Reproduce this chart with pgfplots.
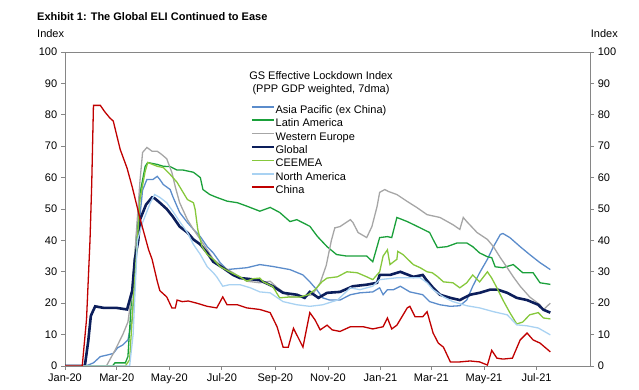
\documentclass[border=0pt]{standalone}
\usepackage{fontspec}
\setmainfont{Liberation Sans}
\usepackage{pgfplots}
\pgfplotsset{compat=1.18}
\definecolor{cAP}{HTML}{5B8CCB}
\definecolor{cLA}{HTML}{1AA03A}
\definecolor{cWE}{HTML}{A6A6A6}
\definecolor{cGL}{HTML}{0C1E5B}
\definecolor{cCE}{HTML}{86C83C}
\definecolor{cNA}{HTML}{A9D2F2}
\definecolor{cCN}{HTML}{C00000}
\definecolor{axgray}{HTML}{868686}
\newcommand{\ff}{\fontsize{11bp}{13bp}\selectfont}
\begin{document}
\ff
\begin{tikzpicture}
\useasboundingbox (0,0) rectangle (639bp,390bp);
\node[anchor=base west, font=\ff\bfseries, inner sep=0pt] at (37bp,369bp) {Exhibit 1: The Global ELI Continued to Ease};
\node[anchor=base west, font=\ff, inner sep=0pt] at (37bp,352bp) {Index};
\node[anchor=base east, font=\ff, inner sep=0pt] at (618bp,352bp) {Index};
\node[anchor=base, font=\ff, inner sep=0pt] at (321bp,310bp) {GS Effective Lockdown Index};
\node[anchor=base, font=\ff, inner sep=0pt] at (321bp,297bp) {(PPP GDP weighted, 7dma)};
\begin{axis}[
  at={(65bp,24bp)}, anchor=south west, scale only axis,
  width=525bp, height=314bp,
  xmin=0, xmax=609, ymin=0, ymax=100,
  axis line style={draw=axgray},
  tick style={draw=axgray, line width=0.8bp},
  major tick length=4bp,
  tick align=outside,
  xtick pos=bottom, ytick pos=left,
  xtick={0,60,121,182,244,305,366,425,486,547},
  xticklabels={Jan-20,Mar-20,May-20,Jul-20,Sep-20,Nov-20,Jan-21,Mar-21,May-21,Jul-21},
  ytick={0,10,...,100},
  /pgf/number format/assume math mode=true,
  tick label style={font=\ff, text=black},
  legend style={at={(0.354,0.831)}, anchor=north west, draw=none, fill=none,
    font=\ff, row sep=3.4bp, column sep=1bp, inner sep=0pt,
    nodes={inner sep=0pt, text height=8bp, text depth=2bp}},
  legend cell align=left,
  legend image code/.code={\draw[line width=1.6bp, #1] (0bp,3.5bp) -- (22bp,3.5bp);},
]
\addplot[color=cAP, line width=1.3bp] coordinates {
(0,0)(24,0)(33,1)(41,3)(49,3.5)(56,4)(61,5.8)(67,6.7)(73,8.3)(78,15)(84,40)(90,56)(95,59.4)(102,59.4)(107,60.4)(110,59.4)(114,57.8)(122,56.2)(125,54)(133,48.9)(142,45.7)(149,43.5)(157,41.2)(165,38)(172,36)(180,32.9)(188,30.7)(195,30.9)(211,31.3)(226,32.3)(241,31.7)(261,30.7)(276,29)(284,26.8)(292,24.3)(299,21.7)(307,21)(319,21)(331,22.7)(342,23.3)(357,23.6)(365,24.9)(369,22.7)(374,24.3)(381,24.3)(389,25.4)(400,23.6)(415,22.7)(423,20.5)(435,19.5)(447,19)(458,19.2)(466,21)(473,25.4)(481,29.7)(490,34)(497,38)(505,41.9)(508,42.2)(516,40.9)(528,38)(539,35.5)(551,32.9)(563,30.7)};
\addlegendentry{Asia Pacific (ex China)}
\addplot[color=cLA, line width=1.3bp] coordinates {
(0,0)(55,0)(58,1)(70,1)(73,3)(78,25)(84,45)(87,55)(93,63.6)(96,64.8)(107,64.2)(114,63.6)(122,63.5)(130,62.4)(137,62.4)(149,61.7)(157,60)(160,56.2)(168,54.6)(176,53.7)(188,52.5)(200,52)(211,50.9)(226,49.3)(238,50.5)(249,48.9)(261,46)(269,46.6)(276,45.6)(284,44.5)(293,41.2)(304,38)(315,35.5)(327,35)(339,35)(350,35)(357,33.2)(365,40.9)(374,41.2)(379,40.9)(385,47.3)(397,46)(412,44)(423,42.5)(427,40.3)(432,37.7)(443,38)(455,39.2)(466,39.2)(473,38)(481,36)(490,34.8)(495,34.5)(499,31.6)(508,31.3)(520,32.3)(531,29.7)(543,29.7)(551,26.5)(563,26)};
\addlegendentry{Latin America}
\addplot[color=cWE, line width=1.3bp] coordinates {
(0,0)(48,0)(58,5)(67,10)(73,14)(78,24)(87,59)(90,68)(95,69.6)(101,68.4)(107,68.4)(112,67.4)(118,66)(124,61.6)(128,57)(133,52)(142,46.6)(149,43.5)(157,40.3)(165,37)(172,34)(183,31.6)(195,29.7)(211,27)(226,26.5)(238,27)(246,25)(261,22)(273,22)(287,22.7)(296,26.5)(303,32)(309,40)(313,44)(319,44.4)(331,46.6)(334,45.7)(340,42.5)(350,40.9)(356,44.4)(362,50.8)(365,55.3)(371,56.2)(375,55.6)(385,54.6)(397,52.4)(408,50.5)(420,48.2)(435,47.3)(450,45)(458,43.5)(462,47.3)(466,46)(478,42.5)(490,40.3)(497,38)(505,34.5)(513,31.3)(520,28.4)(528,25.4)(539,22)(551,19.5)(555,17.9)(559,19)(563,20)};
\addlegendentry{Western Europe}
\addplot[color=cGL, line width=2.6bp] coordinates {
(0,0)(23,0)(27,8)(30,16)(35,19)(45,18.5)(60,18.5)(72,18)(78,24)(81,34)(85,40)(87,46.6)(94,51.4)(101,53.7)(104,53.4)(110,52)(118,50)(125,47.6)(133,44.4)(142,42.5)(149,40.3)(157,38.7)(165,36)(172,33.2)(183,31.3)(195,29)(203,28)(211,27.8)(226,27.3)(241,25.4)(253,23.3)(269,22.7)(278,21.7)(284,23.6)(294,21.7)(304,23.3)(319,23.6)(334,25.4)(350,25.9)(362,26.5)(365,29)(377,29)(389,30)(404,28.4)(415,29)(419,27.5)(427,24.9)(435,22.7)(447,21.7)(458,21)(470,22.7)(481,23.3)(493,24.3)(502,24.3)(513,23.3)(524,21.7)(536,21)(549,19.5)(555,17.9)(563,17)};
\addlegendentry{Global}
\addplot[color=cCE, line width=1.3bp] coordinates {
(0,0)(70,0)(75,2)(79,20)(84,40)(87,53)(93,62)(96,64.8)(107,63.6)(114,63.2)(122,61)(130,58.5)(137,55.3)(142,53)(149,52)(151,49.8)(154,43.5)(159,38)(165,35.5)(172,34)(180,31.6)(191,30)(203,28.4)(211,27)(218,27.8)(226,28)(230,26.8)(241,25.3)(249,21.7)(261,22)(273,22)(282,22.7)(290,24.3)(298,26.8)(304,28)(316,28.4)(327,30)(339,29.7)(350,28.4)(357,27.5)(365,30)(369,35)(374,37)(377,32.3)(385,34)(386,36.5)(392,35.5)(404,32.3)(412,31.3)(420,30)(426,29.7)(432,28.5)(439,26.8)(450,26.5)(458,24.9)(466,26.5)(473,29)(481,26.8)(490,30)(495,28)(501,24.9)(508,21)(516,17)(524,13.4)(531,14)(539,16.3)(549,17)(555,15.3)(563,15)};
\addlegendentry{CEEMEA}
\addplot[color=cNA, line width=1.3bp] coordinates {
(0,0)(75,0)(79,10)(84,40)(90,45.7)(99,52)(104,54.6)(110,53.7)(118,52)(125,49.3)(133,46)(142,42.5)(149,38.7)(157,35.5)(165,31.6)(172,29.7)(176,28.4)(183,25.4)(191,25.9)(203,25.9)(215,24.9)(226,23.6)(238,23.3)(253,20.5)(269,19.5)(284,19)(299,19.5)(316,21)(331,24.9)(342,24.3)(357,25.4)(365,27.5)(385,28.1)(404,28.1)(412,28.1)(420,26.5)(427,24.3)(439,22)(450,20.5)(466,19.2)(481,18.5)(497,17.3)(513,16.3)(524,13.1)(536,12.8)(549,12.1)(563,9.9)};
\addlegendentry{North America}
\addplot[color=cCN, line width=1.3bp] coordinates {
(0,0)(20,0)(25,15)(29,40)(31,58)(33,83)(41,83)(46,81)(52,79)(56,78)(64,69)(72,63)(78,57)(87,47)(94,40)(97,37)(101,34)(107,27)(110,24)(118,22)(124,18.5)(128,18.5)(130,21)(136,20.5)(143,20.7)(153,20)(165,19)(176,18.5)(183,22)(188,19.5)(200,19.5)(211,18.5)(226,18)(238,17)(246,12.5)(253,6)(259,6)(265,12)(270,9.3)(276,6)(284,17)(290,14.7)(296,11.5)(304,13)(310,11.5)(319,11)(331,12.5)(346,12.5)(357,11.8)(369,12.5)(374,15.3)(379,11.8)(385,13)(397,18.5)(400,19)(406,15.7)(415,15.7)(420,17.3)(427,10.5)(433,7.3)(439,6)(447,1.3)(458,1.3)(470,1.6)(481,1.3)(490,0.3)(495,5)(501,2.5)(508,2.2)(519,2.5)(528,8.3)(536,10.5)(543,8.3)(551,7.3)(563,4.5)};
\addlegendentry{China}
\end{axis}
\begin{axis}[
  at={(65bp,24bp)}, anchor=south west, scale only axis,
  width=525bp, height=314bp,
  xmin=0, xmax=609, ymin=0, ymax=100,
  hide x axis, axis y line*=right,
  axis line style={draw=axgray, -},
  tick style={draw=axgray, line width=0.8bp},
  major tick length=4bp,
  tick align=outside,
  ytick={0,10,...,100},
  /pgf/number format/assume math mode=true,
  tick label style={font=\ff, text=black},
]
\end{axis}
\end{tikzpicture}
\end{document}
